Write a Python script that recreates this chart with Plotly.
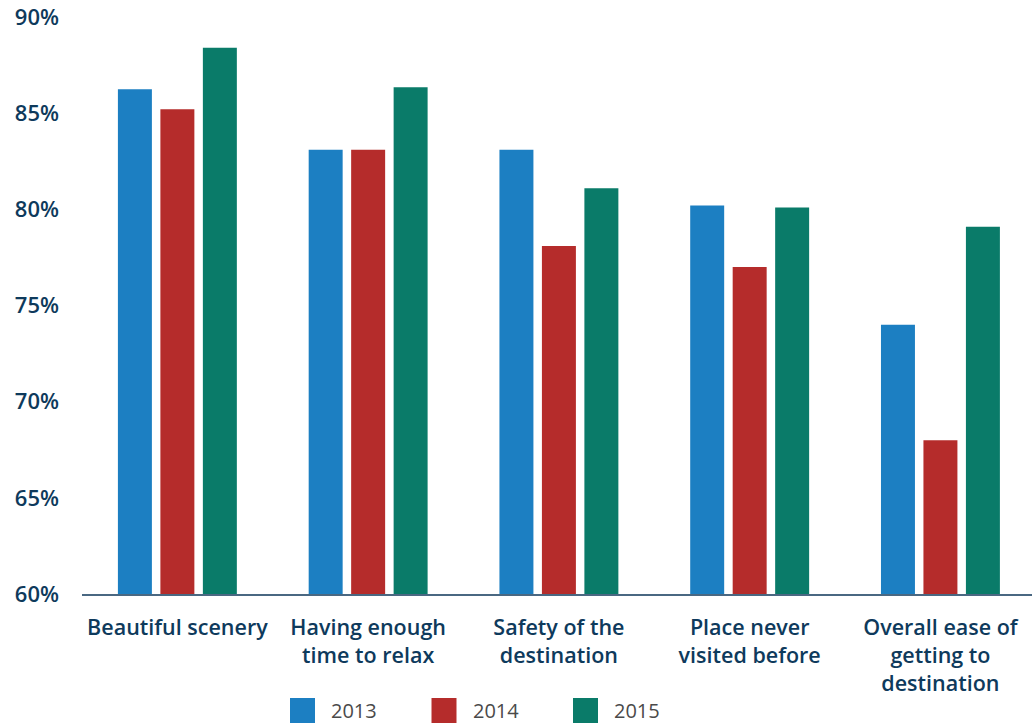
import plotly.graph_objects as go

# Share of respondents rating each factor as important, by survey year
categories = [
    "Beautiful scenery",
    "Having enough<br>time to relax",
    "Safety of the<br>destination",
    "Place never<br>visited before",
    "Overall ease of<br>getting to<br>destination",
]
years = ["2013", "2014", "2015"]
values_2013 = [86.25, 83.1, 83.1, 80.2, 74.0]
values_2014 = [85.2, 83.1, 78.1, 77.0, 68.0]
values_2015 = [88.4, 86.35, 81.1, 80.1, 79.1]
series_values = [values_2013, values_2014, values_2015]
colors = ["#1c7fc2", "#b52c2b", "#0a7b69"]

y_ticks = [60, 65, 70, 75, 80, 85, 90]

W, H = 1032, 723
M_L, M_R, M_T, M_B = 82, 0, 17, 129
NAVY = "#0e3a5c"
FONT = "Open Sans"

fig = go.Figure()
for year, vals, col in zip(years, series_values, colors):
    fig.add_trace(go.Bar(
        name=year, x=categories, y=vals, marker_color=col,
        marker_line_width=0, showlegend=False,
    ))

# Pixel -> paper coordinate helpers for the custom legend
plot_w = W - M_L - M_R
plot_h = H - M_T - M_B


def px_x(px):
    return (px - M_L) / plot_w


def px_y(py):
    return (H - M_B - py) / plot_h


legend_x0 = 290
legend_step = 141.5
sq = 25
sq_top = 698
shapes = []
annotations = []
for i, (year, col) in enumerate(zip(years, colors)):
    x0 = legend_x0 + i * legend_step
    shapes.append(dict(
        type="rect", xref="paper", yref="paper",
        x0=px_x(x0), x1=px_x(x0 + sq), y0=px_y(sq_top + sq), y1=px_y(sq_top),
        fillcolor=col, line_width=0,
    ))
    annotations.append(dict(
        xref="paper", yref="paper", x=px_x(x0 + 39), y=px_y(sq_top + sq / 2),
        text=year, showarrow=False, xanchor="left", yanchor="middle",
        font=dict(family=FONT, size=20, color="#4a4a4a"),
    ))

fig.update_layout(
    width=W, height=H,
    margin=dict(l=M_L, r=M_R, t=M_T, b=M_B, pad=0),
    paper_bgcolor="white", plot_bgcolor="white",
    barmode="group", bargap=0.332, bargroupgap=0.2,
    shapes=shapes, annotations=annotations,
    font=dict(family=FONT, color=NAVY),
)
fig.update_xaxes(
    range=[-0.5, 4.48], showline=True, linecolor="#4a6882", linewidth=2,
    showgrid=False, ticks="", ticklabelstandoff=13,
    tickfont=dict(family=FONT, size=21.5, color=NAVY, weight=600),
)
fig.update_yaxes(
    range=[60, 90], tickvals=y_ticks, ticktext=[f"{v}%" for v in y_ticks],
    showgrid=False, zeroline=False, showline=False, ticks="",
    ticklabelstandoff=22,
    tickfont=dict(family=FONT, size=22, color=NAVY, weight=600),
)

fig.write_html("out.html")
